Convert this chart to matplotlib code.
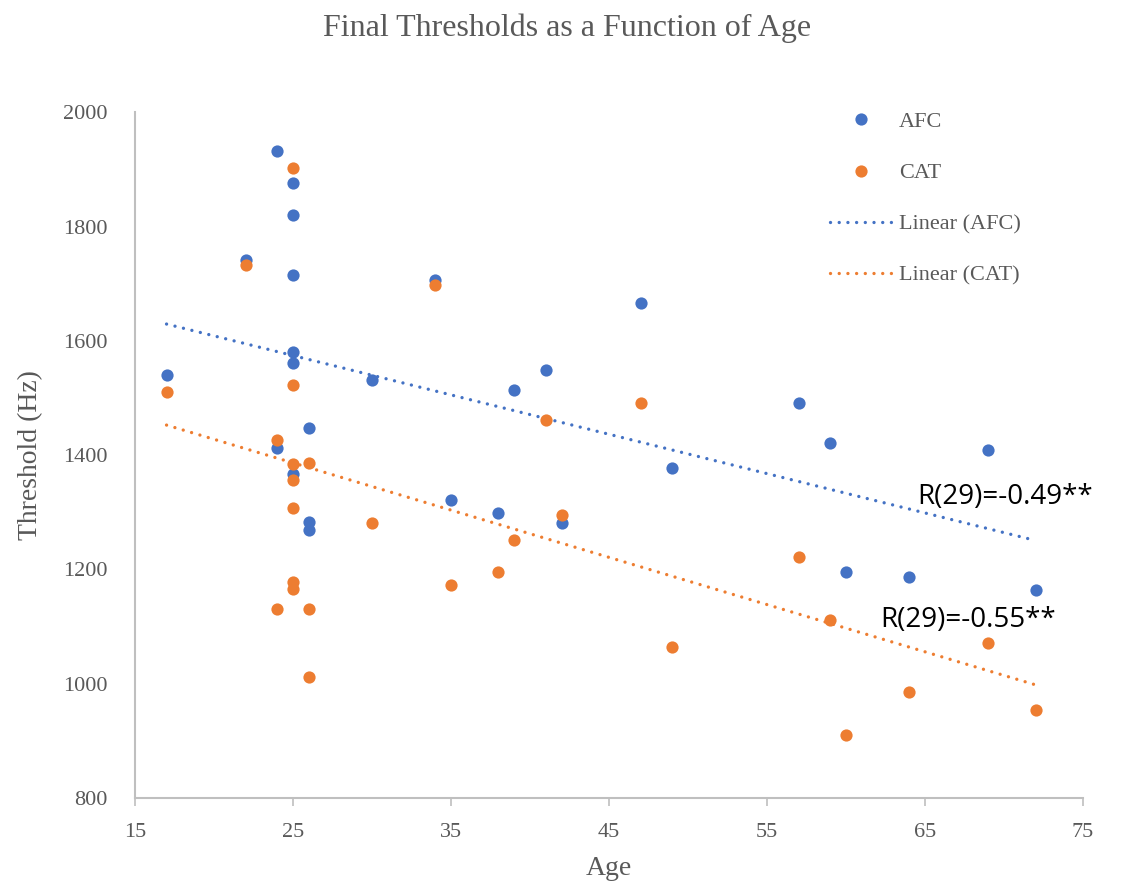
import numpy as np
import matplotlib.pyplot as plt

# ages and final thresholds (Hz) for each procedure
afc_age = [17, 22, 24, 24, 25, 25, 25, 25, 25, 25, 26, 26, 26, 30, 34, 35,
           38, 39, 41, 42, 47, 49, 57, 59, 60, 64, 69, 72]
afc_thr = [1540, 1742, 1933, 1413, 1876, 1820, 1715, 1580, 1562, 1367, 1448,
           1283, 1269, 1531, 1707, 1321, 1299, 1514, 1549, 1282, 1667, 1378,
           1491, 1422, 1195, 1186, 1409, 1164]

cat_age = [17, 22, 24, 24, 25, 25, 25, 25, 25, 25, 25, 26, 26, 26, 30, 34,
           35, 38, 39, 41, 42, 47, 49, 57, 59, 60, 64, 69, 72]
cat_thr = [1510, 1732, 1427, 1130, 1902, 1522, 1384, 1356, 1308, 1178, 1165,
           1387, 1130, 1012, 1282, 1697, 1173, 1195, 1251, 1461, 1295, 1491,
           1064, 1221, 1111, 911, 985, 1072, 954]

r_labels = ["R(29)=-0.49**", "R(29)=-0.55**"]

BLUE = "#4472C4"
ORANGE = "#ED7D31"
GREY = "#595959"
SERIF = "Liberation Serif"

fig = plt.figure(figsize=(11.34, 8.84), dpi=100)
ax = fig.add_axes([0.119, 0.0973, 0.836, 0.7757])

ax.plot(afc_age, afc_thr, "o", color=BLUE, ms=8.8, mew=0, label="AFC", zorder=3)
ax.plot(cat_age, cat_thr, "o", color=ORANGE, ms=8.8, mew=0, label="CAT", zorder=3)

# least-squares trend lines over the age range of each series
for age, thr, col, name in [(afc_age, afc_thr, BLUE, "Linear (AFC)"),
                            (cat_age, cat_thr, ORANGE, "Linear (CAT)")]:
    k, b = np.polyfit(age, thr, 1)
    xs = np.array([min(age), max(age)])
    ax.plot(xs, k * xs + b, color=col, lw=2.4, ls=(0, (0.01, 2.6)),
            dash_capstyle="round", label=name, zorder=2)

ax.text(64.5, 1326, r_labels[0], fontsize=20, family="Open Sans", va="center")
ax.text(62.2, 1111, r_labels[1], fontsize=20, family="Open Sans", va="center")

ax.set_xlim(15, 75)
ax.set_ylim(800, 2000)
ax.set_xticks(range(15, 76, 10))
ax.set_yticks(range(800, 2001, 200))

for s in ["top", "right"]:
    ax.spines[s].set_visible(False)
for s in ["left", "bottom"]:
    ax.spines[s].set_color("#BFBFBF")
    ax.spines[s].set_linewidth(1.5)
ax.tick_params(axis="x", length=6, width=1.2, color="#BFBFBF", pad=12)
ax.tick_params(axis="y", length=0, pad=20)
for lab in ax.get_xticklabels() + ax.get_yticklabels():
    lab.set_family(SERIF)
    lab.set_fontsize(16)
    lab.set_color(GREY)

ax.set_xlabel("Age", family=SERIF, fontsize=20, color=GREY, labelpad=10)
ax.set_ylabel("Threshold (Hz)", family=SERIF, fontsize=20, color=GREY, labelpad=14)
fig.suptitle("Final Thresholds as a Function of Age", family=SERIF,
             fontsize=23, color=GREY, y=0.985)

leg = ax.legend(loc="upper left", bbox_to_anchor=(0.712, 1.03), frameon=False,
                prop={"family": SERIF, "size": 16}, handlelength=2.8,
                labelspacing=1.38, handletextpad=0.3)
for t in leg.get_texts():
    t.set_color(GREY)

fig.savefig("out.png", dpi=100)
